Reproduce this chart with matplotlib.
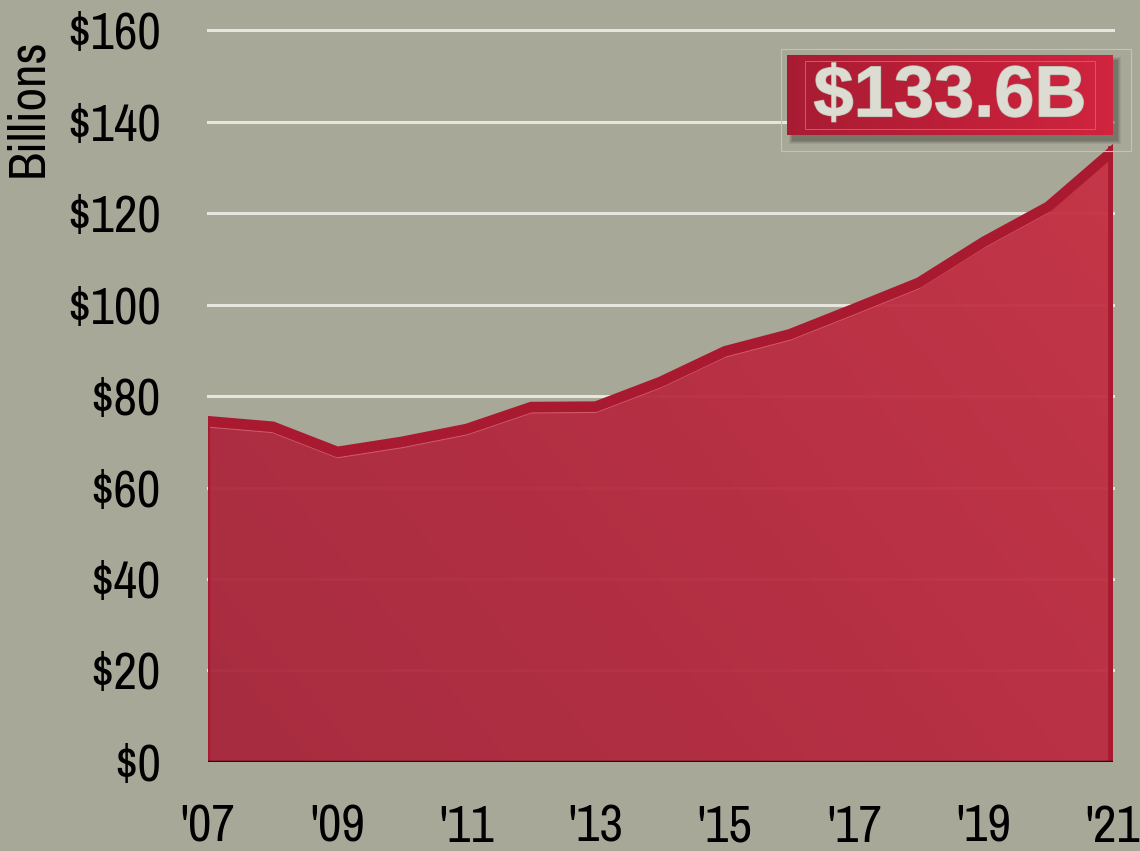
#!/usr/bin/env python3
"""연도별 금액 영역 차트 (Billions)"""

import matplotlib
matplotlib.use("Agg")
import matplotlib.pyplot as plt
import numpy as np
from matplotlib.colors import LinearSegmentedColormap
from matplotlib.patches import Rectangle, Polygon
import matplotlib.patheffects as pe

# 데이터
years = [2007, 2008, 2009, 2010, 2011, 2012, 2013, 2014,
         2015, 2016, 2017, 2018, 2019, 2020, 2021]
values = [74.5, 73.3, 67.8, 70.0, 72.8, 77.6, 77.7, 83.1,
          89.8, 93.5, 99.1, 104.8, 113.7, 121.4, 133.6]
tick_years = [2007, 2009, 2011, 2013, 2015, 2017, 2019, 2021]
tick_labels = ["'07", "'09", "'11", "'13", "'15", "'17", "'19", "'21"]
y_ticks = [0, 20, 40, 60, 80, 100, 120, 140, 160]
y_labels = ['$0', '$20', '$40', '$60', '$80', '$100', '$120', '$140', '$160']
callout = '$133.6B'

BG = '#a7a898'
LINE = '#a91a30'
FONT = ['Archivo Narrow', 'DejaVu Sans']

fig = plt.figure(figsize=(11.4, 8.51), dpi=100, facecolor=BG)
ax = fig.add_axes([0.1825, 0.1046, 0.9763 - 0.1825, 0.9647 - 0.1046])
ax.set_facecolor(BG)
ax.set_xlim(2007, 2021)
ax.set_ylim(0, 160)

# 그리드
for yv in y_ticks[1:]:
    ax.axhline(yv, color='#e6e6de', linewidth=2.2, zorder=1, clip_on=False)

# 영역 (그라데이션)
poly_xy = [(years[0], 0)] + list(zip(years, values)) + [(years[-1], 0)]
poly = Polygon(poly_xy, closed=True, facecolor='none', edgecolor='none')
ax.add_patch(poly)
cmap = LinearSegmentedColormap.from_list('redgrad', ['#a8253a', '#b72a40', '#c93145'])
gx, gy = np.meshgrid(np.linspace(0, 1, 200), np.linspace(0, 1, 200))
grad = 0.6 * gx + 0.4 * gy
img = ax.imshow(grad, extent=[2007, 2021, 0, 160], origin='lower', aspect='auto',
                cmap=cmap, alpha=0.95, zorder=2, interpolation='bilinear')
img.set_clip_path(poly)

# 외곽선
ax.plot(years, np.array(values) - 1.3, color='#dc6a78', linewidth=0.8, alpha=0.7, zorder=3)
ax.plot(years, values, color=LINE, linewidth=7.5, zorder=4, solid_joinstyle='miter',
        solid_capstyle='projecting')
ax.plot([years[0], years[0]], [0, values[0]], color=LINE, linewidth=3, zorder=4)
ax.plot([years[-1], years[-1]], [0, values[-1]], color=LINE, linewidth=7, zorder=4)
ax.axhline(0, color='#2a0a10', linewidth=2.5, zorder=5)

# 축
for s in ax.spines.values():
    s.set_visible(False)
ax.set_yticks(y_ticks)
ax.set_yticklabels(y_labels, family=FONT, fontsize=37)
ax.set_xticks(tick_years)
ax.set_xticklabels(tick_labels, family=FONT, fontsize=37)
ax.tick_params(axis='y', length=0, pad=34)
ax.tick_params(axis='x', length=0, pad=30)

fig.text(0.024, 0.874, 'Billions', rotation=90, family=FONT, fontsize=37,
         ha='center', va='center')

# 콜아웃 박스 (그림자 + 테두리) - 픽셀 좌표 오버레이
sax = fig.add_axes([0, 0, 1, 1], zorder=2)
sax.set_xlim(0, 1140)
sax.set_ylim(851, 0)
sax.axis('off')
sax.patch.set_visible(False)
for i, a in enumerate([0.12, 0.16, 0.22, 0.3]):
    g = 3 - i
    sax.add_patch(Rectangle((792 - g, 60 - g), 326 + 2 * g, 81 + 2 * g,
                            facecolor='#55554a', edgecolor='none', alpha=a))
sax.add_patch(Rectangle((781, 49), 350, 102, facecolor='none',
                        edgecolor='#c4c4b6', linewidth=0.8))

bax = fig.add_axes([787 / 1140, 1 - 135 / 851, 326 / 1140, 80 / 851], zorder=3)
bax.imshow(np.linspace(0, 1, 100).reshape(1, -1), aspect='auto',
           cmap=LinearSegmentedColormap.from_list('box', ['#a81c33', '#bd1f38', '#d0243f']),
           extent=[0, 1, 0, 1])
bax.set_xlim(0, 1)
bax.set_ylim(0, 1)
bax.axis('off')
bax.add_patch(Rectangle((0.055, 0.07), 0.89, 0.86, facecolor='none',
                        edgecolor='#d45866', linewidth=0.7))
bax.text(0.5, 0.47, callout, ha='center', va='center', fontsize=52, fontweight='bold',
         family=['Liberation Sans', 'DejaVu Sans'], color='#dcdcd3',
         path_effects=[pe.withStroke(linewidth=1, foreground='#b8b8aa')])

fig.savefig('out.png', dpi=100, facecolor=BG)
